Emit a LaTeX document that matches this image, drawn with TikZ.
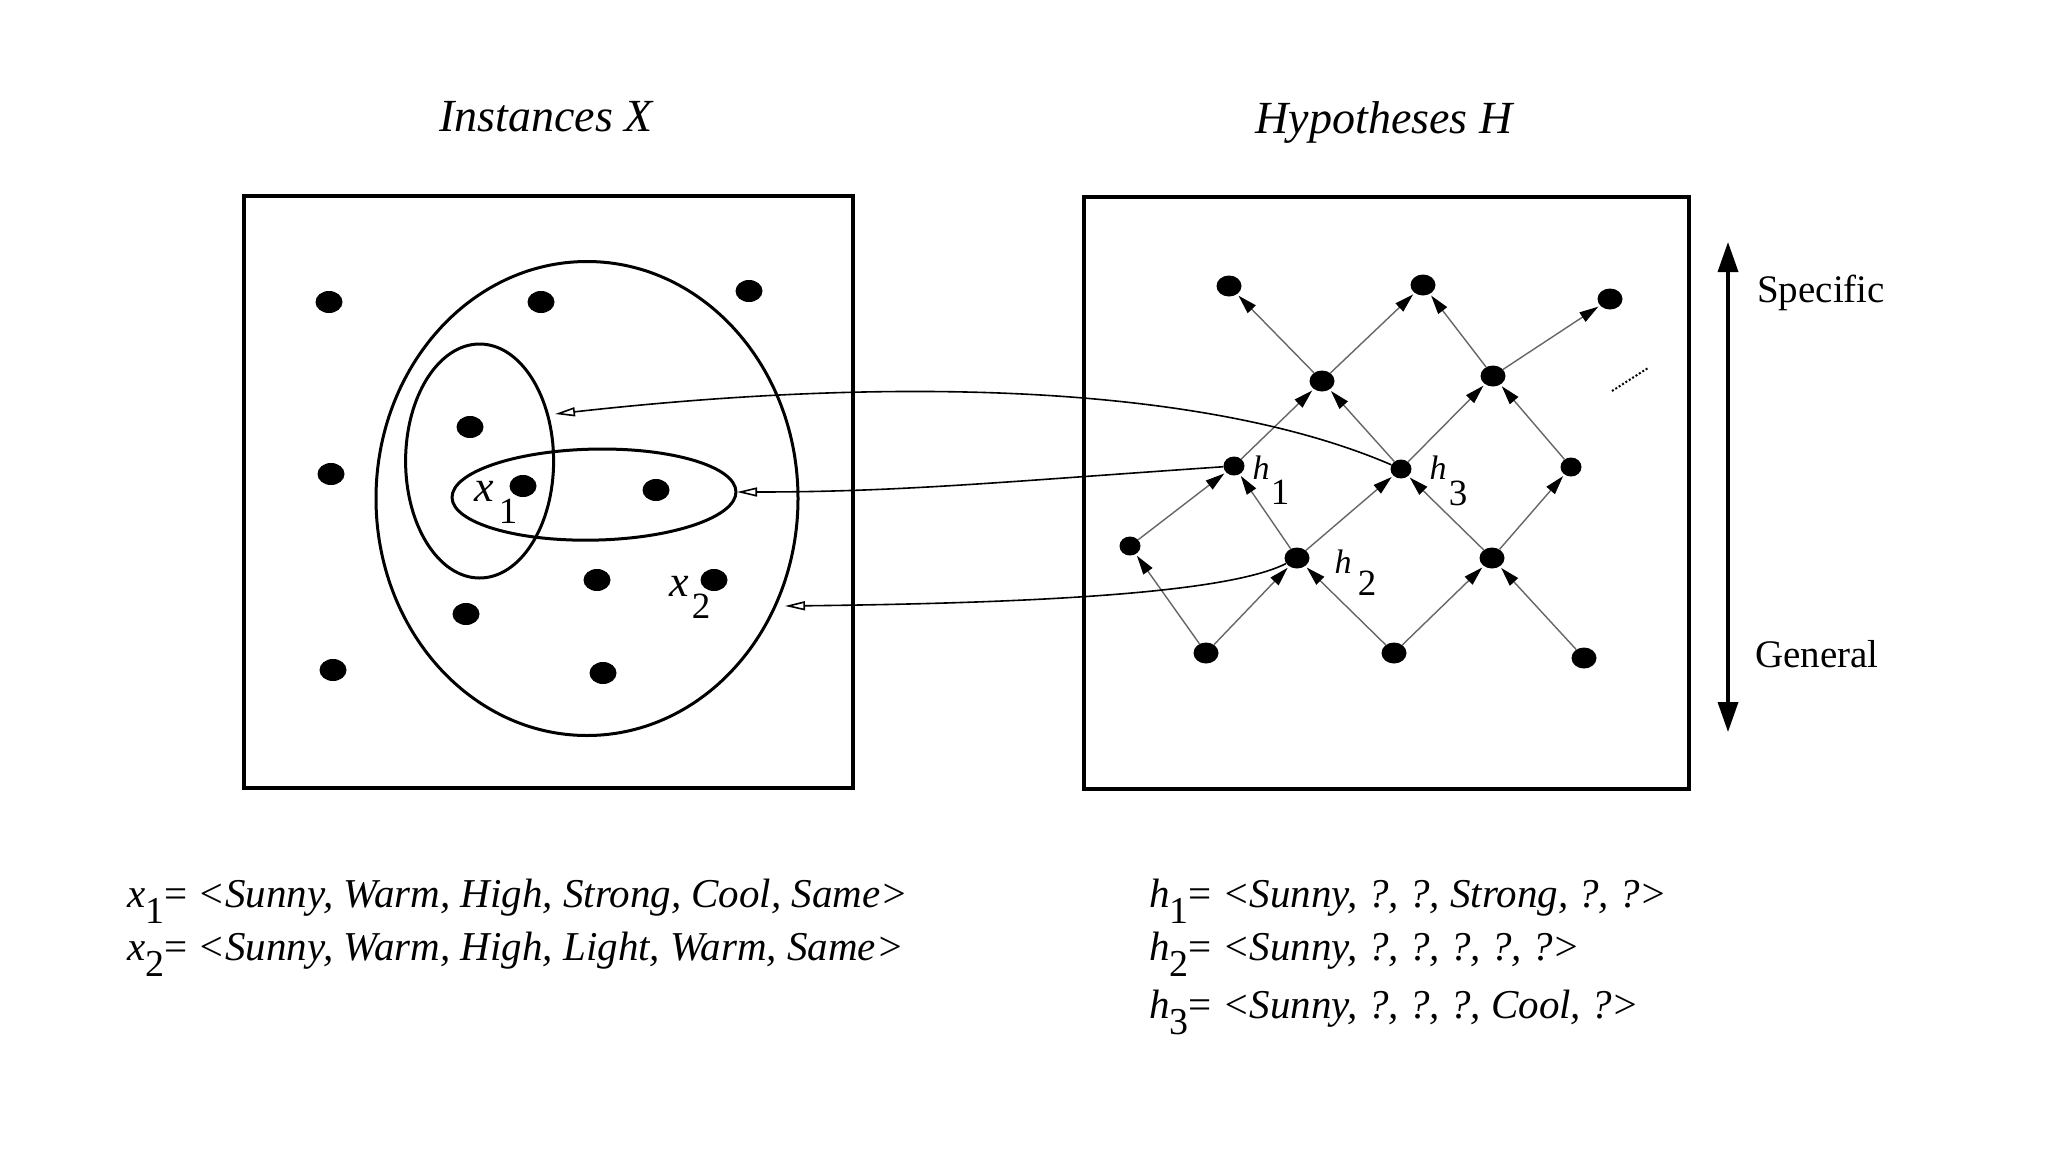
\documentclass[tikz,border=0pt]{standalone}
\usepackage{fontspec}
\setmainfont{Liberation Serif}
\usetikzlibrary{arrows.meta,shapes.geometric}
\newcommand\myBody{\fontsize{41}{48}\selectfont}
\newcommand\myTitle{\fontsize{46}{54}\selectfont}
\newcommand\mySub[1]{\raisebox{-16pt}{\fontsize{38}{40}\selectfont #1}}
\begin{document}
\begin{tikzpicture}[x=1pt,y=-1pt,
  box/.style={line width=3.5pt},
  setline/.style={line width=3pt},
  xdot/.style={ellipse,fill=black,inner sep=0pt,minimum width=27pt,minimum height=22pt},
  hdot/.style={ellipse,fill=black,inner sep=0pt,minimum width=25pt,minimum height=21pt},
  hdots/.style={ellipse,fill=black,inner sep=0pt,minimum width=21pt,minimum height=19pt},
  gen/.style={line width=1.4pt,draw=black!60,-{Triangle[length=19pt,width=11pt,color=black]},shorten >=2pt},
  link/.style={line width=1.6pt,-{Triangle[open,length=20pt,width=9pt]}},
  xlbl/.style={inner sep=0pt,font=\fontsize{44}{48}\selectfont\itshape},
  hlbl/.style={inner sep=0pt,font=\fontsize{34}{38}\selectfont\itshape},
  sublbl/.style={inner sep=0pt,font=\fontsize{37}{40}\selectfont},
  txt/.style={anchor=base west,inner sep=0pt,font=\myBody},
  axislbl/.style={anchor=base west,inner sep=0pt,font=\fontsize{39}{44}\selectfont}
]
\useasboundingbox (0,0) rectangle (2048,1152);
\fill[white] (0,0) rectangle (2048,1152);

% titles
\node[anchor=base,inner sep=0pt,font=\myTitle\itshape] (tX) at (546,131) {Instances X};
\node[anchor=base,inner sep=0pt,font=\myTitle\itshape] (tH) at (1384,133) {Hypotheses H};

% boxes
\draw[box] (244,196) rectangle (853,788);
\draw[box] (1084,197) rectangle (1689,789);

% instance sets
\draw[setline] (587,498.5) ellipse [x radius=211, y radius=237];
\draw[setline] (479.6,461) ellipse [x radius=74, y radius=117];
\draw[setline,rotate around={1.2:(594,494.6)}] (594,494.6) ellipse [x radius=142, y radius=45.5];

% instance dots
\node[xdot] (d1) at (329,302) {};
\node[xdot] (d2) at (541,302) {};
\node[xdot] (d3) at (749,291) {};
\node[xdot] (d4) at (331,474) {};
\node[xdot] (d5) at (470,427) {};
\node[xdot] (x1d) at (523,486) {};
\node[xdot] (d7) at (656,490) {};
\node[xdot] (d8) at (597,580) {};
\node[xdot] (x2d) at (714,580) {};
\node[xdot] (d10) at (466,614) {};
\node[xdot] (d11) at (333,670) {};
\node[xdot] (d12) at (603,673) {};

\node[xlbl] (x1l) at (484,491) {x};
\node[sublbl] (x1s) at (508,511) {1};
\node[xlbl] (x2l) at (679,586) {x};
\node[sublbl] (x2s) at (701,606) {2};

% hypothesis lattice
\node[hdot] (A) at (1229,286) {};
\node[hdot] (B) at (1423,285) {};
\node[hdot] (C) at (1610,299) {};
\node[hdot] (D) at (1322,381) {};
\node[hdot] (E) at (1493,376) {};
\node[hdots] (h1) at (1234,466) {};
\node[hdots] (h3) at (1401,469) {};
\node[hdots] (F) at (1571,467) {};
\node[hdots] (G) at (1130,546) {};
\node[hdot] (h2) at (1297,558) {};
\node[hdot] (I) at (1492,558) {};
\node[hdot] (J) at (1206,653) {};
\node[hdot] (K) at (1394,653) {};
\node[hdot] (L) at (1584,658) {};

\draw[gen] (J) -- (G);
\draw[gen] (J) -- (h2);
\draw[gen] (G) -- (h1);
\draw[gen] (h2) -- (h1);
\draw[gen] (h2) -- (h3);
\draw[gen] (K) -- (h2);
\draw[gen] (K) -- (I);
\draw[gen] (L) -- (I);
\draw[gen] (I) -- (F);
\draw[gen] (I) -- (h3);
\draw[gen] (h1) -- (D);
\draw[gen] (h3) -- (D);
\draw[gen] (h3) -- (E);
\draw[gen] (F) -- (E);
\draw[gen] (D) -- (A);
\draw[gen] (D) -- (B);
\draw[gen] (E) -- (B);
\draw[gen] (E) -- (C);

\node[hlbl] (h1l) at (1261,468) {h};
\node[sublbl] (h1s) at (1280,492) {1};
\node[hlbl] (h3l) at (1438,468) {h};
\node[sublbl] (h3s) at (1458,493) {3};
\node[hlbl] (h2l) at (1343,562) {h};
\node[sublbl] (h2s) at (1367,583) {2};

\coordinate (m1) at (1612,391);
\coordinate (m2) at (1648,368);
\draw[line width=2pt,dotted] (m1) -- (m2);

% links hypotheses -> instance sets
\coordinate (e1) at (555,414);
\coordinate (e2) at (737,492);
\coordinate (e3) at (785,606);
\draw[link] (h3) .. controls (1230,395) and (950,370) .. (e1);
\draw[link] (h1) .. controls (1000,482) and (900,492) .. (e2);
\draw[link] (h2) .. controls (1230,592) and (1050,603) .. (e3);

% specific/general axis
\coordinate (aT) at (1728,242);
\coordinate (aB) at (1728,732);
\draw[line width=3.5pt,{Triangle[length=30pt,width=20pt]}-{Triangle[length=30pt,width=20pt]}] (aT) -- (aB);
\node[axislbl] (spec) at (1757,302) {Specific};
\node[axislbl] (genl) at (1755,667) {General};

% definitions
\node[txt] (tx1) at (127,907) {\textit{x}\mySub{1}= \textit{<Sunny, Warm, High, Strong, Cool, Same>}};
\node[txt] (tx2) at (127,960) {\textit{x}\mySub{2}= \textit{<Sunny, Warm, High, Light, Warm, Same>}};
\node[txt] (th1) at (1149,907) {\textit{h}\mySub{1}= \textit{<Sunny, ?, ?, Strong, ?, ?>}};
\node[txt] (th2) at (1149,960) {\textit{h}\mySub{2}= \textit{<Sunny, ?, ?, ?, ?, ?>}};
\node[txt] (th3) at (1149,1018) {\textit{h}\mySub{3}= \textit{<Sunny, ?, ?, ?, Cool, ?>}};
\end{tikzpicture}
\end{document}
